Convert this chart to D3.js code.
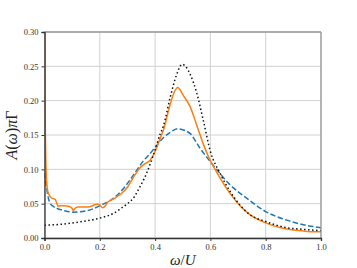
<!DOCTYPE html>
<html>
<head>
<meta charset="utf-8">
<script src="https://cdn.jsdelivr.net/npm/d3@7"></script>
<style>
  body { margin: 0; background: #fff; }
  svg { display: block; }
</style>
</head>
<body>
<div class="chart"></div>
<script>
// omega / U and A(omega) pi Gamma
const orangeW = [0, 0.002, 0.004, 0.008, 0.014, 0.026, 0.038, 0.045, 0.05, 0.055, 0.07, 0.09, 0.1, 0.105, 0.11, 0.12, 0.157, 0.19, 0.2, 0.21, 0.22, 0.228, 0.25, 0.276, 0.3, 0.321, 0.345, 0.363, 0.381, 0.4, 0.412, 0.424, 0.43, 0.454, 0.47, 0.482, 0.49, 0.503, 0.527, 0.55, 0.575, 0.598, 0.624, 0.671, 0.707, 0.743, 0.8, 0.876, 0.94, 1.0];
const orangeA = [0.9, 0.2, 0.129, 0.08, 0.065, 0.058, 0.0565, 0.05, 0.046, 0.047, 0.047, 0.046, 0.043, 0.040, 0.043, 0.045, 0.045, 0.049, 0.048, 0.044, 0.047, 0.052, 0.057, 0.064, 0.074, 0.088, 0.102, 0.108, 0.113, 0.126, 0.138, 0.151, 0.157, 0.194, 0.213, 0.219, 0.216, 0.207, 0.191, 0.165, 0.136, 0.114, 0.095, 0.065, 0.047, 0.034, 0.022, 0.013, 0.010, 0.009];

const blueW = [0, 0.003, 0.008, 0.014, 0.02, 0.032, 0.045, 0.07, 0.105, 0.157, 0.205, 0.25, 0.279, 0.31, 0.336, 0.357, 0.38, 0.4, 0.43, 0.455, 0.482, 0.505, 0.527, 0.562, 0.588, 0.624, 0.671, 0.731, 0.8, 0.876, 0.94, 1.0];
const blueA = [0.095, 0.085, 0.072, 0.058, 0.051, 0.046, 0.043, 0.040, 0.0376, 0.040, 0.048, 0.058, 0.069, 0.085, 0.100, 0.112, 0.122, 0.132, 0.146, 0.154, 0.159, 0.157, 0.152, 0.131, 0.117, 0.099, 0.0775, 0.058, 0.0385, 0.026, 0.019, 0.015];

const blackW = [0, 0.06, 0.12, 0.2, 0.25, 0.276, 0.3, 0.325, 0.339, 0.36, 0.37, 0.394, 0.418, 0.43, 0.454, 0.478, 0.498, 0.514, 0.526, 0.55, 0.575, 0.6, 0.634, 0.671, 0.707, 0.743, 0.8, 0.876, 0.94, 1.0];
const blackA = [0.0186, 0.020, 0.023, 0.029, 0.036, 0.043, 0.050, 0.060, 0.070, 0.086, 0.095, 0.121, 0.151, 0.163, 0.204, 0.238, 0.253, 0.248, 0.239, 0.212, 0.170, 0.126, 0.095, 0.068, 0.048, 0.034, 0.024, 0.015, 0.0125, 0.0107];

const xTicks = [0, 0.2, 0.4, 0.6, 0.8, 1.0];
const yTicks = [0, 0.05, 0.10, 0.15, 0.20, 0.25, 0.30];

const W = 357, H = 268;
const margin = {left: 44.5, right: 36, top: 32, bottom: 30};

const svg = d3.select(".chart").append("svg")
  .attr("width", W)
  .attr("height", H);

const x = d3.scaleLinear().domain([0, 1]).range([margin.left, W - margin.right]);
const y = d3.scaleLinear().domain([0, 0.3]).range([H - margin.bottom, margin.top]);

// grid
svg.append("g")
  .selectAll("line.gx")
  .data(xTicks)
  .enter().append("line")
  .attr("x1", d => x(d)).attr("x2", d => x(d))
  .attr("y1", y(0)).attr("y2", y(0.3))
  .attr("stroke", "#d0d0d0").attr("stroke-width", 1);
svg.append("g")
  .selectAll("line.gy")
  .data(yTicks)
  .enter().append("line")
  .attr("x1", x(0)).attr("x2", x(1))
  .attr("y1", d => y(d)).attr("y2", d => y(d))
  .attr("stroke", "#d0d0d0").attr("stroke-width", 1);

svg.append("clipPath").attr("id", "plotclip")
  .append("rect")
  .attr("x", x(0)).attr("y", y(0.3))
  .attr("width", x(1) - x(0)).attr("height", y(0) - y(0.3));

const line = d3.line().x(d => x(d[0])).y(d => y(d[1])).curve(d3.curveMonotoneX);
const plot = svg.append("g").attr("clip-path", "url(#plotclip)");

plot.append("path")
  .datum(d3.zip(blueW, blueA))
  .attr("d", line)
  .attr("fill", "none")
  .attr("stroke", "#1f77b4")
  .attr("stroke-width", 1.5)
  .attr("stroke-dasharray", "5.5,2.4");

plot.append("path")
  .datum(d3.zip(orangeW, orangeA))
  .attr("d", line)
  .attr("fill", "none")
  .attr("stroke", "#ff7f0e")
  .attr("stroke-width", 1.5);

plot.append("path")
  .datum(d3.zip(blackW, blackA))
  .attr("d", line)
  .attr("fill", "none")
  .attr("stroke", "#111")
  .attr("stroke-width", 1.5)
  .attr("stroke-dasharray", "1.5,2.5");

// spines: top/right light, left/bottom dark
svg.append("line")
  .attr("x1", x(0)).attr("x2", x(1)).attr("y1", y(0.3)).attr("y2", y(0.3))
  .attr("stroke", "#999").attr("stroke-width", 1.3);
svg.append("line")
  .attr("x1", x(1)).attr("x2", x(1)).attr("y1", y(0)).attr("y2", y(0.3))
  .attr("stroke", "#999").attr("stroke-width", 1.3);

const xAxis = svg.append("g")
  .attr("transform", "translate(0," + y(0) + ")")
  .call(d3.axisBottom(x).tickValues(xTicks).tickFormat(d3.format(".1f")).tickSize(3).tickPadding(3));
const yAxis = svg.append("g")
  .attr("transform", "translate(" + x(0) + ",0)")
  .call(d3.axisLeft(y).tickValues(yTicks).tickFormat(d3.format(".2f")).tickSize(3).tickPadding(3));

[xAxis, yAxis].forEach(a => {
  a.attr("font-family", "Liberation Serif, DejaVu Serif, serif").attr("font-size", 8.5);
  a.select(".domain").attr("stroke", "#333").attr("stroke-width", 1.3);
  a.selectAll(".tick line").attr("stroke", "#333");
  a.selectAll(".tick text").attr("fill", "#333");
});

// labels
const lab = svg.append("text")
  .attr("x", (x(0) + x(1)) / 2)
  .attr("y", 265)
  .attr("text-anchor", "middle")
  .attr("font-family", "Liberation Serif, DejaVu Serif, serif")
  .attr("font-size", 15)
  .attr("fill", "#222");
lab.append("tspan").attr("font-style", "italic").text("ω");
lab.append("tspan").text("/");
lab.append("tspan").attr("font-style", "italic").text("U");

const ylab = svg.append("text")
  .attr("transform", "translate(17," + ((y(0) + y(0.3)) / 2) + ") rotate(-90)")
  .attr("text-anchor", "middle")
  .attr("font-family", "Liberation Serif, DejaVu Serif, serif")
  .attr("font-size", 16)
  .attr("fill", "#222");
ylab.append("tspan").attr("font-style", "italic").text("A");
ylab.append("tspan").text("(");
ylab.append("tspan").attr("font-style", "italic").text("ω");
ylab.append("tspan").text(")");
ylab.append("tspan").attr("font-style", "italic").text("π");
ylab.append("tspan").text("Γ");
</script>
</body>
</html>
